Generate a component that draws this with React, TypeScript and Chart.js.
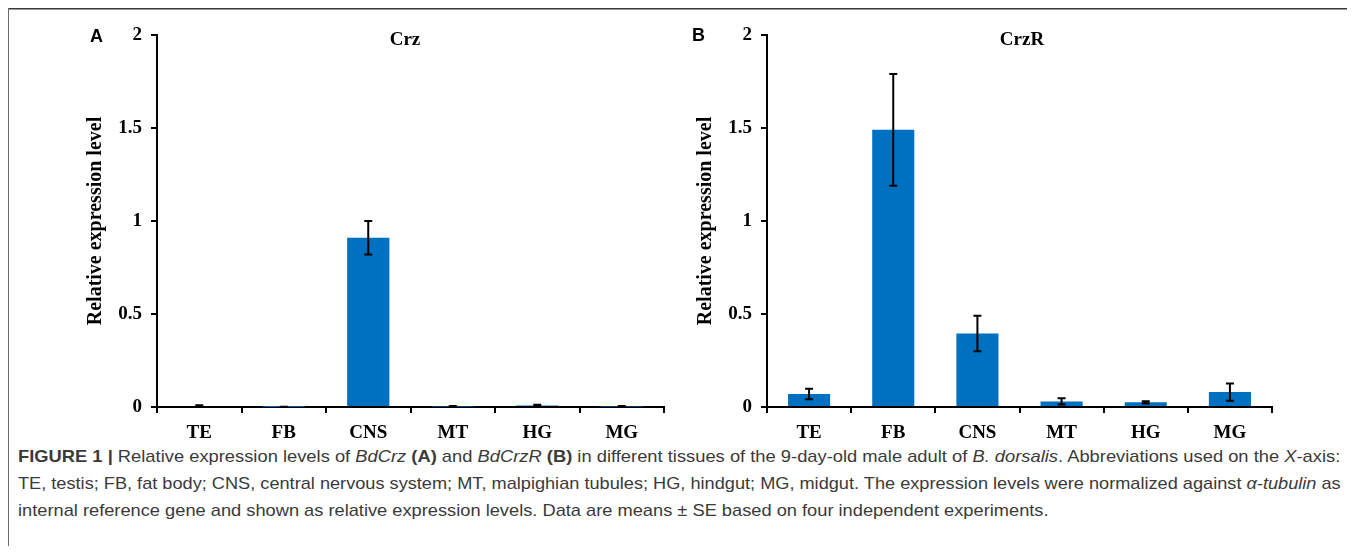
import React, { useEffect, useLayoutEffect, useRef } from "react";
import { Chart, registerables } from "chart.js";

Chart.register(...registerables);

const categories = ["TE", "FB", "CNS", "MT", "HG", "MG"];
const crzValues = [0.006, 0.001, 0.91, 0.003, 0.008, 0.003];
const crzErrors = [0.003, 0.001, 0.09, 0.002, 0.004, 0.002];
const crzrValues = [0.07, 1.49, 0.395, 0.03, 0.025, 0.08];
const crzrErrors = [0.028, 0.3, 0.095, 0.017, 0.006, 0.047];
const yMin = 0;
const yMax = 2;
const yStep = 0.5;
const yAxisTitle = "Relative expression level";

const SERIF = "'Liberation Serif', 'Times New Roman', serif";
const SANS = "'Liberation Sans', Arial, Helvetica, sans-serif";
const BAR_COLOR = "#0070C0";

const errorBarPlugin = {
  id: "errorBars",
  afterDatasetsDraw(chart: any, _args: any, opts: any) {
    const errs: number[] = opts.errors || [];
    const meta = chart.getDatasetMeta(0);
    const vals = chart.data.datasets[0].data as number[];
    const ys = chart.scales.y;
    const ctx = chart.ctx;
    ctx.save();
    ctx.strokeStyle = "#000";
    ctx.lineWidth = 2;
    meta.data.forEach((bar: any, i: number) => {
      const e = errs[i];
      if (e == null) return;
      const x = bar.x;
      const top = ys.getPixelForValue(vals[i] + e);
      const bot = ys.getPixelForValue(Math.max(vals[i] - e, 0));
      ctx.beginPath();
      ctx.moveTo(x, top);
      ctx.lineTo(x, bot);
      ctx.moveTo(x - 4, top);
      ctx.lineTo(x + 4, top);
      ctx.moveTo(x - 4, bot);
      ctx.lineTo(x + 4, bot);
      ctx.stroke();
    });
    ctx.restore();
  },
};

function makeChart(
  canvas: HTMLCanvasElement,
  values: number[],
  errors: number[],
  yAxisWidth: number,
  yTitlePad: number,
  rightPad: number
) {
  const tickFont = { family: SERIF, size: 19, weight: "bold" as const };
  return new Chart(canvas, {
    type: "bar",
    data: {
      labels: categories,
      datasets: [
        {
          data: values,
          backgroundColor: BAR_COLOR,
          borderWidth: 0,
          barPercentage: 0.5,
          categoryPercentage: 1.0,
        },
      ],
    },
    options: {
      responsive: false,
      animation: false,
      devicePixelRatio: 1,
      layout: { padding: { top: 27, right: rightPad, bottom: 0, left: 0 } },
      plugins: {
        legend: { display: false },
        tooltip: { enabled: false },
        title: { display: false },
        errorBars: { errors },
      } as any,
      scales: {
        x: {
          grid: {
            display: true,
            drawOnChartArea: false,
            drawTicks: true,
            tickLength: 6,
            color: "#000",
            lineWidth: 2,
            offset: true,
          },
          border: { display: true, color: "#000", width: 2 },
          ticks: { color: "#000", font: tickFont, padding: 9, maxRotation: 0 },
          afterFit: (s: any) => {
            s.height = 33;
          },
        },
        y: {
          min: yMin,
          max: yMax,
          ticks: {
            stepSize: yStep,
            color: "#000",
            font: tickFont,
            padding: 9,
            callback: (v: any) => String(Number(v)),
          },
          grid: {
            display: true,
            drawOnChartArea: false,
            drawTicks: true,
            tickLength: 6,
            color: "#000",
            lineWidth: 2,
          },
          border: { display: true, color: "#000", width: 2 },
          title: {
            display: true,
            text: yAxisTitle,
            color: "#000",
            font: { family: SERIF, size: 20, weight: "bold" },
            padding: { top: yTitlePad, bottom: 0 },
          },
          afterFit: (s: any) => {
            s.width = yAxisWidth;
          },
        },
      },
    },
    plugins: [errorBarPlugin as any],
  });
}

const captionStyle: React.CSSProperties = {
  position: "absolute",
  left: 10,
  fontFamily: SANS,
  fontSize: 17,
  lineHeight: "27px",
  color: "#3a3a3a",
  whiteSpace: "nowrap",
  transformOrigin: "0 50%",
  display: "inline-block",
};

export default function App() {
  const refA = useRef<HTMLCanvasElement>(null);
  const refB = useRef<HTMLCanvasElement>(null);
  const l1 = useRef<HTMLSpanElement>(null);
  const l2 = useRef<HTMLSpanElement>(null);
  const l3 = useRef<HTMLSpanElement>(null);

  useEffect(() => {
    const a = makeChart(refA.current!, crzValues, crzErrors, 149, 76, 16);
    const b = makeChart(refB.current!, crzrValues, crzrErrors, 87, 14, 48);
    return () => {
      a.destroy();
      b.destroy();
    };
  }, []);

  useLayoutEffect(() => {
    const fit = () => {
      const w1 = l1.current!.offsetWidth;
      const w2 = l2.current!.offsetWidth;
      const s1 = 1322 / w1;
      const s2 = 1323 / w2;
      l1.current!.style.transform = `scaleX(${s1})`;
      l2.current!.style.transform = `scaleX(${s2})`;
      l3.current!.style.transform = `scaleX(${(s1 + s2) / 2})`;
    };
    fit();
    if ((document as any).fonts && (document as any).fonts.ready) {
      (document as any).fonts.ready.then(fit);
    }
  }, []);

  return (
    <div style={{ position: "relative", width: 1339, height: 538, overflow: "hidden", background: "#fff" }}>
      <div style={{ position: "absolute", left: 0, top: 0, width: 1339, height: 1, background: "#3a3a3a" }} />
      <div style={{ position: "absolute", left: 0, top: 1, width: 1339, height: 1, background: "#9a9a9a" }} />
      <div style={{ position: "absolute", left: 0, top: 0, width: 1, height: 538, background: "#6a6a6a" }} />

      <canvas ref={refA} width={672} height={432} style={{ position: "absolute", left: 0, top: 0 }} />
      <canvas ref={refB} width={640} height={432} style={{ position: "absolute", left: 672, top: 0 }} />

      <div style={{ position: "absolute", left: 82, top: 18.5, fontFamily: SANS, fontWeight: "bold", fontSize: 18, lineHeight: "18px", color: "#000" }}>A</div>
      <div style={{ position: "absolute", left: 684, top: 18, fontFamily: SANS, fontWeight: "bold", fontSize: 18, lineHeight: "18px", color: "#000" }}>B</div>

      <div style={{ position: "absolute", left: 297, width: 200, top: 20.7, textAlign: "center", fontFamily: SERIF, fontWeight: "bold", fontSize: 19, lineHeight: "19px", color: "#000" }}>Crz</div>
      <div style={{ position: "absolute", left: 914, width: 200, top: 20.7, textAlign: "center", fontFamily: SERIF, fontWeight: "bold", fontSize: 19, lineHeight: "19px", color: "#000" }}>CrzR</div>

      <span ref={l1} style={{ ...captionStyle, top: 434.5 }}>
        <b>FIGURE 1 |</b> Relative expression levels of <i>BdCrz</i> <b>(A)</b> and <i>BdCrzR</i> <b>(B)</b> in different tissues of the 9-day-old male adult of <i>B. dorsalis</i>. Abbreviations used on the <i>X</i>-axis:
      </span>
      <span ref={l2} style={{ ...captionStyle, top: 461.5 }}>
        TE, testis; FB, fat body; CNS, central nervous system; MT, malpighian tubules; HG, hindgut; MG, midgut. The expression levels were normalized against <i>α-tubulin</i> as
      </span>
      <span ref={l3} style={{ ...captionStyle, top: 488.5 }}>
        internal reference gene and shown as relative expression levels. Data are means ± SE based on four independent experiments.
      </span>
    </div>
  );
}
